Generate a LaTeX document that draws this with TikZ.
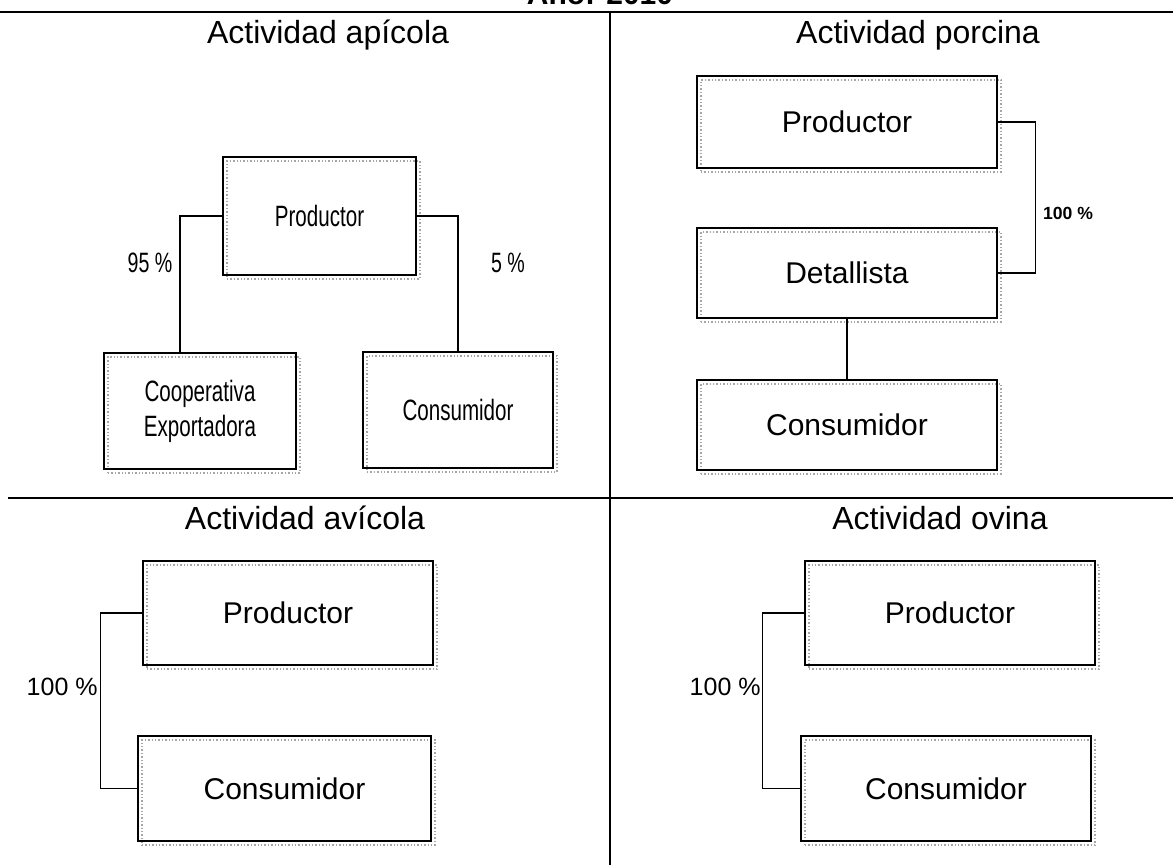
\documentclass[tikz,border=0pt]{standalone}
\usepackage{fontspec}
\setmainfont{Liberation Sans}
\newfontfamily\estrecha[FakeStretch=0.7]{Liberation Sans}
\usepackage{tikz}
\usetikzlibrary{calc}
\tikzset{
  caja/.style={draw, line width=1.4pt, inner sep=0pt, align=center,
    font=\fontsize{15}{18}\selectfont,
    preaction={draw=gray!70, densely dotted, line width=0.7pt,
      transform canvas={shift={(2pt,-2pt)}}}},
  cajaA/.style={caja, font=\estrecha\fontsize{14.7}{17.5}\selectfont},
  titulo/.style={font=\fontsize{16}{19}\selectfont},
  pct/.style={font=\fontsize{12.5}{15}\selectfont, inner sep=0pt},
  pctA/.style={font=\estrecha\fontsize{14}{17}\selectfont, inner sep=0pt},
  linea/.style={line width=0.6pt},
  marco/.style={line width=1pt}
}

\begin{document}
\begin{tikzpicture}[x=0.5pt, y=-0.5pt]
  \useasboundingbox (0,0) rectangle (1173,865);
  \clip (0,0) rectangle (1173,865);
  \node[anchor=base, font=\bfseries\fontsize{15}{18}\selectfont] (anio) at (600,5) {Año: 2010};
  \draw[marco, line width=1.2pt] (0,12) -- (1173,12);
  \draw[marco] (610,12) -- (610,865);
  \draw[marco] (8,498) -- (1173,498);

  \node[titulo] (tApi) at (328,35) {Actividad apícola};
  \node[cajaA, minimum width=96.5pt, minimum height=59pt] (prodA) at (319.5,216) {Productor};
  \node[cajaA, minimum width=96pt, minimum height=58pt] (coopA) at (200,411) {Cooperativa\\Exportadora};
  \node[cajaA, minimum width=95pt, minimum height=58pt] (consA) at (458,410) {Consumidor};
  \coordinate (codoA) at (180,216);
  \draw[linea] (prodA.west) -- (codoA) -- (codoA |- coopA.north);
  \draw[linea] (prodA.east) -| (consA.north);
  \node[pctA] (p95) at (150,263) {95 \%};
  \node[pctA] (p5) at (508,263) {5 \%};

  \node[titulo] (tPor) at (918,35) {Actividad porcina};
  \node[caja, minimum width=150pt, minimum height=46pt] (prodP) at (847,122) {Productor};
  \node[caja, minimum width=150pt, minimum height=45pt] (detP) at (847,273) {Detallista};
  \node[caja, minimum width=150pt, minimum height=45pt] (consP) at (847,425) {Consumidor};
  \draw[linea] (prodP.east) -- ++(37,0) |- (detP.east);
  \draw[linea] (detP.south) -- (consP.north);
  \node[font=\bfseries\fontsize{8.8}{10}\selectfont, inner sep=0pt] (p100P) at (1068,213) {100 \%};

  \node[titulo] (tAvi) at (305,518) {Actividad avícola};
  \node[caja, minimum width=145pt, minimum height=52pt] (prodAv) at (288,613) {Productor};
  \node[caja, minimum width=146.5pt, minimum height=52.5pt] (consAv) at (284.5,788.5) {Consumidor};
  \draw[linea] (prodAv.west) -- ++(-41,0) |- (consAv.west);
  \node[pct, anchor=east] (p100Av) at (98,687) {100 \%};

  \node[titulo] (tOvi) at (940,518) {Actividad ovina};
  \node[caja, minimum width=145pt, minimum height=52pt] (prodO) at (950,613) {Productor};
  \node[caja, minimum width=145pt, minimum height=52.5pt] (consO) at (946,788.5) {Consumidor};
  \draw[linea] (prodO.west) -- ++(-41,0) |- (consO.west);
  \node[pct, anchor=east] (p100O) at (761,687) {100 \%};
\end{tikzpicture}
\end{document}
